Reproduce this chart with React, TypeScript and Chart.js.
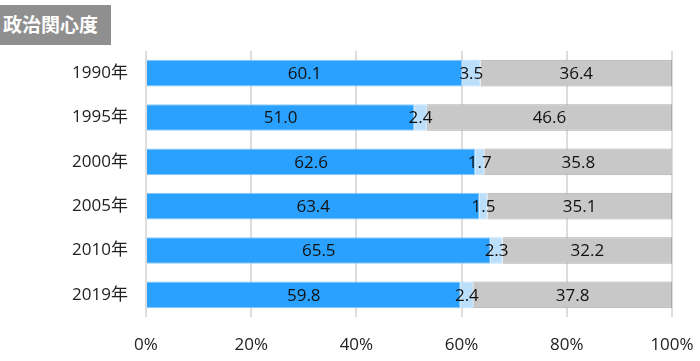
import React, { useEffect, useRef } from "react";
import { Chart, registerables } from "chart.js";

Chart.register(...registerables);

const categories = ["1990年", "1995年", "2000年", "2005年", "2010年", "2019年"];
const interested = [60.1, 51.0, 62.6, 63.4, 65.5, 59.8];
const unknown = [3.5, 2.4, 1.7, 1.5, 2.3, 2.4];
const notInterested = [36.4, 46.6, 35.8, 35.1, 32.2, 37.8];
const xTicks = [0, 20, 40, 60, 80, 100];

const FONT = "'Open Sans', 'Noto Sans CJK JP', sans-serif";
const TITLE_FONT = "'Noto Sans CJK JP', sans-serif";

const labelPlugin = {
  id: "segLabels",
  afterDatasetsDraw(chart: any) {
    const ctx = chart.ctx;
    ctx.save();
    ctx.font = `17px ${FONT}`;
    ctx.fillStyle = "#111";
    ctx.textAlign = "center";
    ctx.textBaseline = "middle";
    chart.data.datasets.forEach((ds: any, di: number) => {
      const meta = chart.getDatasetMeta(di);
      meta.data.forEach((el: any, i: number) => {
        const v = ds.data[i];
        const x = (el.x + el.base) / 2;
        ctx.fillText(v.toFixed(1), x, el.y + 1);
      });
    });
    ctx.restore();
  },
};

export default function App() {
  const ref = useRef<HTMLCanvasElement>(null);
  useEffect(() => {
    if (!ref.current) return;
    const chart = new Chart(ref.current, {
      type: "bar",
      data: {
        labels: categories,
        datasets: [
          { label: "関心がある", data: interested, backgroundColor: "#2aa1ff", borderColor: "#8cc8f5", borderWidth: 1 },
          { label: "わからない", data: unknown, backgroundColor: "#bbdefb", borderColor: "#bbdefb", borderWidth: 1 },
          { label: "関心がない", data: notInterested, backgroundColor: "#c8c8c8", borderColor: "#aaaaaa", borderWidth: 1 },
        ],
      },
      options: {
        indexAxis: "y",
        animation: false,
        responsive: false,
        maintainAspectRatio: false,
        layout: { padding: { top: 51, right: 28, left: 0, bottom: 0 } },
        plugins: { legend: { display: false }, tooltip: { enabled: false }, title: { display: false } },
        datasets: { bar: { categoryPercentage: 1, barPercentage: 0.6 } },
        scales: {
          x: {
            stacked: true,
            min: 0,
            max: 100,
            afterBuildTicks(axis: any) {
              axis.ticks = xTicks.map((v) => ({ value: v }));
            },
            afterFit(axis: any) {
              axis.height = 44;
              axis.paddingLeft = 0;
              axis.paddingRight = 0;
            },
            ticks: {
              callback: (v: any) => `${v}%`,
              font: { family: FONT, size: 17 },
              color: "#222",
              padding: 18,
            },
            grid: { color: "#dddddd", lineWidth: 2, drawTicks: false },
            border: { display: false },
          },
          y: {
            stacked: true,
            afterFit(axis: any) {
              axis.width = 146;
            },
            ticks: { font: { family: FONT, size: 17 }, color: "#222", padding: 10 },
            grid: { display: false },
            border: { display: false },
          },
        },
      },
      plugins: [labelPlugin],
    } as any);
    return () => chart.destroy();
  }, []);
  return (
    <div style={{ position: "fixed", left: 0, top: 0, width: 700, height: 361, background: "#fff" }}>
      <div
        style={{
          position: "absolute",
          left: 0,
          top: 5,
          width: 111,
          height: 40,
          background: "#8f8f8f",
          color: "#fff",
          fontFamily: TITLE_FONT,
          fontWeight: "bold",
          fontSize: 19,
          lineHeight: "38px",
          paddingLeft: 3,
          boxSizing: "border-box",
          whiteSpace: "nowrap",
        }}
      >
        政治関心度
      </div>
      <canvas ref={ref} width={700} height={361} style={{ display: "block" }} />
    </div>
  );
}
